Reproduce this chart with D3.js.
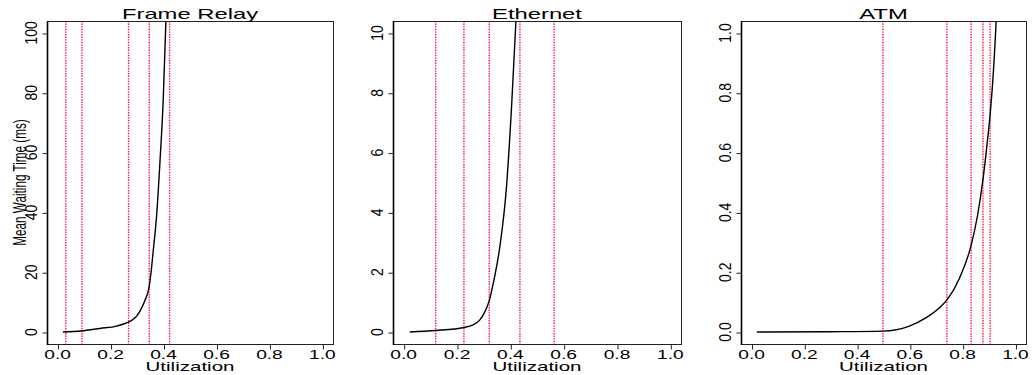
<!DOCTYPE html>
<html>
<head>
<meta charset="utf-8">
<script src="https://cdn.jsdelivr.net/npm/d3@7"></script>
<style>
  html, body { margin: 0; padding: 0; background: #fff; }
  svg { display: block; }
  text { font-family: "Liberation Sans", Arial, sans-serif; fill: #000; }
</style>
</head>
<body>
<svg id="chart" width="1033" height="375"></svg>
<script>
// ---------- data ----------
const titles = ["Frame Relay", "Ethernet", "ATM"];
const yLabel = "Mean Waiting Time (ms)";
const xLabel = "Utilization";
const xTicks = [0, 0.2, 0.4, 0.6, 0.8, 1.0];

// Frame Relay
const frUtil = [0.02, 0.09, 0.16, 0.223, 0.265, 0.286, 0.30, 0.311, 0.329, 0.346, 0.353, 0.361, 0.374, 0.386, 0.399, 0.409, 0.415];
const frWait = [0, 0.35, 1.2, 2.0, 3.2, 4.3, 5.5, 7.0, 10.4, 15.3, 20, 27, 39, 56, 78, 104, 125];
const frMarks = [0.031, 0.092, 0.268, 0.346, 0.423];
const frYTicks = [0, 20, 40, 60, 80, 100];
const frYMax = 100;

// Ethernet
const ethUtil = [0.023, 0.12, 0.226, 0.26, 0.285, 0.303, 0.321, 0.34, 0.361, 0.386, 0.405, 0.421, 0.428];
const ethWait = [0, 0.05, 0.15, 0.24, 0.4, 0.65, 1.05, 1.8, 2.87, 4.9, 7.6, 10.4, 11.8];
const ethMarks = [0.120, 0.226, 0.321, 0.436, 0.564];
const ethYTicks = [0, 2, 4, 6, 8, 10];
const ethYMax = 10;

// ATM
const atmUtil = [0.02, 0.3, 0.497, 0.598, 0.662, 0.712, 0.742, 0.788, 0.833, 0.857, 0.876, 0.891, 0.904, 0.914, 0.927, 0.935];
const atmWait = [0, 0.001, 0.003, 0.02, 0.048, 0.081, 0.109, 0.18, 0.293, 0.393, 0.504, 0.616, 0.727, 0.838, 1.04, 1.2];
const atmMarks = [0.498, 0.740, 0.832, 0.877, 0.904];
const atmYTicks = [0, 0.2, 0.4, 0.6, 0.8, 1.0];
const atmYMax = 1;

// ---------- layout ----------
const boxLeft = [47, 393, 741];
const boxRight = [333, 681, 1026];
const boxTop = 21, boxBottom = 344;

const panels = [
  { title: titles[0], u: frUtil, w: frWait, marks: frMarks, yTicks: frYTicks, yMax: frYMax, fmt: d3.format("d"), ylab: true },
  { title: titles[1], u: ethUtil, w: ethWait, marks: ethMarks, yTicks: ethYTicks, yMax: ethYMax, fmt: d3.format("d"), ylab: false },
  { title: titles[2], u: atmUtil, w: atmWait, marks: atmMarks, yTicks: atmYTicks, yMax: atmYMax, fmt: d3.format(".1f"), ylab: false }
];

const svg = d3.select("#chart");

panels.forEach((p, i) => {
  const L = boxLeft[i], R = boxRight[i];
  const x = d3.scaleLinear().domain([-0.04, 1.04]).range([L, R]);
  const y = d3.scaleLinear().domain([-0.04 * p.yMax, 1.04 * p.yMax]).range([boxBottom, boxTop]);
  const g = svg.append("g");

  const clipId = "clip" + i;
  svg.append("defs").append("clipPath").attr("id", clipId)
    .append("rect").attr("x", L).attr("y", boxTop).attr("width", R - L).attr("height", boxBottom - boxTop);

  const plot = g.append("g").attr("clip-path", `url(#${clipId})`);

  // vertical dotted red lines
  plot.selectAll("line.mark").data(p.marks).join("line")
    .attr("class", "mark")
    .attr("x1", d => x(d)).attr("x2", d => x(d))
    .attr("y1", boxTop).attr("y2", boxBottom)
    .attr("stroke", "#ff1144").attr("stroke-width", 1.4)
    .attr("stroke-dasharray", "1.4,1.2");

  // curve
  const pts = p.u.map((u, k) => [u, p.w[k]]);
  plot.append("path").datum(pts)
    .attr("fill", "none").attr("stroke", "#000").attr("stroke-width", 1.4)
    .attr("d", d3.line().x(d => x(d[0])).y(d => y(d[1])).curve(d3.curveMonotoneX));

  // box
  g.append("rect").attr("x", L + 0.5).attr("y", boxTop + 0.5)
    .attr("width", R - L).attr("height", boxBottom - boxTop)
    .attr("fill", "none").attr("stroke", "#222").attr("stroke-width", 1);
  g.append("line").attr("x1", L + 0.5).attr("x2", L + 0.5).attr("y1", boxTop).attr("y2", boxBottom + 1)
    .attr("stroke", "#000").attr("stroke-width", 1.6);

  // x axis ticks (R style)
  const xAxis = d3.axisBottom(x).tickValues(xTicks).tickSize(5).tickFormat(() => "");
  const xa = g.append("g").attr("transform", `translate(0.5,${boxBottom + 0.5})`).call(xAxis);
  xa.select(".domain").attr("stroke", "#222").attr("d", `M${x(0)},0H${x(1)}`);
  xa.selectAll(".tick line").attr("stroke", "#222");
  g.selectAll("text.xtl").data(xTicks).join("text")
    .attr("class", "xtl")
    .attr("transform", d => `translate(${x(d)},359) scale(1.52,1)`)
    .attr("text-anchor", "middle").attr("font-size", 12.6)
    .text(d3.format(".1f"));

  // y axis ticks
  const yAxis = d3.axisLeft(y).tickValues(p.yTicks).tickSize(5).tickFormat(() => "");
  const ya = g.append("g").attr("transform", `translate(${L + 0.5},0.5)`).call(yAxis);
  ya.select(".domain").remove();
  ya.selectAll(".tick line").attr("stroke", "#222");
  g.selectAll("text.ytl").data(p.yTicks).join("text")
    .attr("class", "ytl")
    .attr("transform", d => `translate(${L - 10},${y(d)}) rotate(-90) scale(0.82,1)`)
    .attr("text-anchor", "middle").attr("font-size", 17)
    .text(p.fmt);

  // title
  g.append("text")
    .attr("transform", `translate(${(L + R) / 2},19) scale(1.7,1)`)
    .attr("text-anchor", "middle").attr("font-size", 14)
    .text(p.title);

  // x label
  g.append("text")
    .attr("transform", `translate(${(L + R) / 2},370.5) scale(1.63,1)`)
    .attr("text-anchor", "middle").attr("font-size", 12.6)
    .text(xLabel);

  if (p.ylab) {
    g.append("text")
      .attr("transform", `translate(25.5,${(boxTop + boxBottom) / 2}) rotate(-90) scale(0.65,1)`)
      .attr("text-anchor", "middle").attr("font-size", 18)
      .text(yLabel);
  }
});
</script>
</body>
</html>
